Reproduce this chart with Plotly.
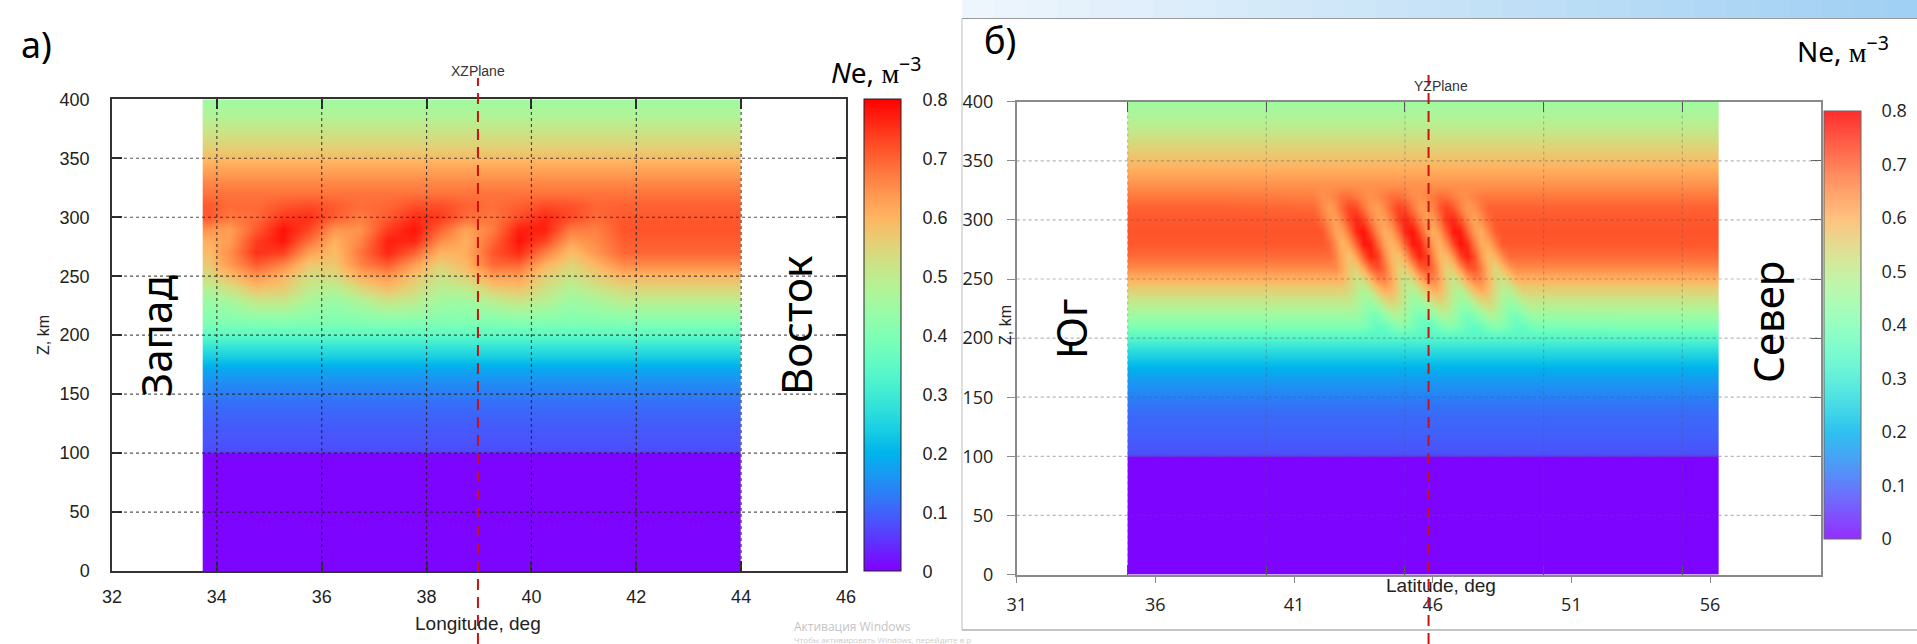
import plotly.graph_objects as go

W, H = 1917, 644

# ------------------------------------------------------------------ data
# colour range of Ne
Z_MIN, Z_MAX = 0.0, 0.8
cb_ticks = [0, 0.1, 0.2, 0.3, 0.4, 0.5, 0.6, 0.7, 0.8]
cb_labels = ["0", "0.1", "0.2", "0.3", "0.4", "0.5", "0.6", "0.7", "0.8"]

alt_ticks = [0, 50, 100, 150, 200, 250, 300, 350, 400]

# altitude cell edges (km) shared by both panels
alt_edges = [0, 99.5, 100, 105] + list(range(115, 396, 10)) + [400]

# ---- panel a : XZ plane (longitude)
lon_ticks_a = [32, 34, 36, 38, 40, 42, 44, 46]
lon_edges_a = [33.73, 34.0, 34.5, 35.0, 35.5, 36.0, 36.5, 37.0, 37.5, 38.0, 38.5,
               39.0, 39.5, 40.0, 40.5, 41.0, 41.5, 42.0, 42.5, 43.0, 43.5, 44.0]
plane_lon_a = 38.98

profile_a = [0.004, 0.004, 0.075, 0.085, 0.09, 0.10, 0.11, 0.13, 0.15, 0.18, 0.23,
             0.28, 0.345, 0.40, 0.45, 0.50, 0.545, 0.595, 0.655, 0.695, 0.705,
             0.715, 0.71, 0.70, 0.68, 0.655, 0.625, 0.59, 0.555, 0.525, 0.495,
             0.47, 0.455]

band_alt_a = [220, 230, 240, 250, 260, 270, 280, 290, 300, 310]
band_a = [
    [0.42, 0.431, 0.458, 0.461, 0.436, 0.42, 0.439, 0.463, 0.456, 0.429, 0.424, 0.447, 0.465, 0.447, 0.424, 0.435, 0.45, 0.45, 0.45, 0.45, 0.45],
    [0.445, 0.469, 0.517, 0.517, 0.469, 0.445, 0.483, 0.523, 0.503, 0.457, 0.454, 0.498, 0.524, 0.488, 0.449, 0.47, 0.5, 0.5, 0.5, 0.5, 0.5],
    [0.486, 0.524, 0.58, 0.563, 0.501, 0.488, 0.543, 0.585, 0.543, 0.488, 0.501, 0.563, 0.58, 0.524, 0.48, 0.515, 0.545, 0.545, 0.545, 0.545, 0.545],
    [0.534, 0.585, 0.639, 0.599, 0.533, 0.538, 0.606, 0.636, 0.578, 0.522, 0.556, 0.628, 0.628, 0.556, 0.52, 0.56, 0.595, 0.595, 0.595, 0.595, 0.595],
    [0.568, 0.633, 0.707, 0.659, 0.571, 0.572, 0.662, 0.707, 0.63, 0.555, 0.595, 0.691, 0.696, 0.603, 0.55, 0.6, 0.655, 0.655, 0.655, 0.655, 0.655],
    [0.586, 0.647, 0.75, 0.737, 0.626, 0.589, 0.68, 0.763, 0.702, 0.6, 0.608, 0.713, 0.759, 0.669, 0.584, 0.64, 0.695, 0.695, 0.695, 0.695, 0.695],
    [0.606, 0.631, 0.739, 0.778, 0.685, 0.602, 0.661, 0.768, 0.763, 0.652, 0.606, 0.693, 0.781, 0.73, 0.626, 0.655, 0.705, 0.705, 0.705, 0.705, 0.705],
    [0.643, 0.628, 0.709, 0.783, 0.729, 0.638, 0.645, 0.739, 0.78, 0.699, 0.623, 0.67, 0.769, 0.769, 0.67, 0.667, 0.715, 0.715, 0.715, 0.715, 0.715],
    [0.709, 0.675, 0.69, 0.744, 0.754, 0.704, 0.67, 0.706, 0.755, 0.743, 0.69, 0.676, 0.722, 0.76, 0.726, 0.69, 0.71, 0.71, 0.71, 0.71, 0.71],
    [0.708, 0.691, 0.69, 0.711, 0.724, 0.706, 0.686, 0.695, 0.719, 0.722, 0.699, 0.685, 0.702, 0.723, 0.717, 0.695, 0.70, 0.70, 0.70, 0.70, 0.70],
]

# ---- panel b : YZ plane (latitude)
lat_ticks_b = [31, 36, 41, 46, 51, 56]
lat_minor_b = [35, 40, 45, 50, 55]
lat_edges_b = [35.0] + [41.625 + 0.25 * i for i in range(33)] + [56.3]
plane_lat_b = 45.85

profile_b = [0.004, 0.004, 0.08, 0.09, 0.10, 0.105, 0.115, 0.135, 0.155, 0.18, 0.22,
             0.27, 0.335, 0.40, 0.45, 0.50, 0.55, 0.605, 0.655, 0.69, 0.71, 0.715,
             0.71, 0.70, 0.675, 0.645, 0.615, 0.585, 0.555, 0.525, 0.495, 0.47,
             0.455]

band_alt_b = [210, 220, 230, 240, 250, 260, 270, 280, 290, 300, 310, 320]
band_b = [
    [0.40, 0.40, 0.40, 0.40, 0.40, 0.40, 0.40, 0.395, 0.376, 0.357, 0.366, 0.389, 0.411, 0.412, 0.389, 0.367, 0.355, 0.367, 0.389, 0.412, 0.411, 0.389, 0.366, 0.357, 0.372, 0.397, 0.414, 0.407, 0.381, 0.362, 0.363, 0.381],
    [0.45, 0.45, 0.45, 0.45, 0.45, 0.45, 0.45, 0.423, 0.396, 0.395, 0.427, 0.467, 0.479, 0.452, 0.413, 0.388, 0.396, 0.429, 0.468, 0.478, 0.45, 0.412, 0.387, 0.404, 0.439, 0.475, 0.474, 0.438, 0.402, 0.388, 0.416, 0.442],
    [0.50, 0.50, 0.50, 0.50, 0.50, 0.50, 0.479, 0.45, 0.437, 0.473, 0.52, 0.545, 0.525, 0.481, 0.44, 0.438, 0.476, 0.52, 0.545, 0.525, 0.479, 0.44, 0.446, 0.489, 0.53, 0.545, 0.512, 0.466, 0.433, 0.455, 0.484, 0.50],
    [0.55, 0.55, 0.55, 0.55, 0.55, 0.536, 0.502, 0.47, 0.507, 0.565, 0.605, 0.598, 0.55, 0.494, 0.472, 0.51, 0.565, 0.605, 0.596, 0.548, 0.492, 0.48, 0.526, 0.583, 0.61, 0.585, 0.531, 0.483, 0.488, 0.522, 0.55, 0.55],
    [0.605, 0.605, 0.605, 0.605, 0.598, 0.559, 0.52, 0.539, 0.6, 0.66, 0.668, 0.622, 0.554, 0.51, 0.54, 0.605, 0.66, 0.666, 0.62, 0.552, 0.512, 0.558, 0.625, 0.668, 0.657, 0.6, 0.537, 0.521, 0.56, 0.60, 0.605, 0.605],
    [0.655, 0.655, 0.655, 0.655, 0.614, 0.569, 0.561, 0.623, 0.695, 0.725, 0.685, 0.611, 0.555, 0.563, 0.627, 0.70, 0.725, 0.683, 0.609, 0.553, 0.577, 0.649, 0.712, 0.718, 0.664, 0.589, 0.545, 0.591, 0.636, 0.655, 0.655, 0.655],
    [0.69, 0.69, 0.69, 0.66, 0.61, 0.576, 0.628, 0.71, 0.768, 0.742, 0.658, 0.592, 0.578, 0.63, 0.714, 0.768, 0.738, 0.654, 0.59, 0.588, 0.648, 0.736, 0.77, 0.716, 0.634, 0.58, 0.606, 0.656, 0.69, 0.69, 0.69, 0.69],
    [0.71, 0.71, 0.694, 0.644, 0.594, 0.629, 0.701, 0.775, 0.773, 0.699, 0.625, 0.59, 0.631, 0.705, 0.775, 0.771, 0.695, 0.623, 0.598, 0.649, 0.73, 0.783, 0.754, 0.672, 0.61, 0.612, 0.662, 0.71, 0.71, 0.71, 0.71, 0.71],
    [0.715, 0.713, 0.666, 0.617, 0.622, 0.685, 0.761, 0.781, 0.726, 0.652, 0.604, 0.624, 0.687, 0.763, 0.781, 0.724, 0.648, 0.604, 0.639, 0.709, 0.776, 0.772, 0.70, 0.631, 0.608, 0.655, 0.704, 0.715, 0.715, 0.715, 0.715, 0.715],
    [0.71, 0.68, 0.641, 0.624, 0.668, 0.729, 0.765, 0.735, 0.672, 0.627, 0.626, 0.669, 0.732, 0.765, 0.732, 0.669, 0.626, 0.635, 0.686, 0.747, 0.762, 0.716, 0.654, 0.617, 0.65, 0.689, 0.71, 0.71, 0.71, 0.71, 0.71, 0.71],
    [0.685, 0.654, 0.626, 0.653, 0.697, 0.732, 0.724, 0.679, 0.64, 0.627, 0.654, 0.699, 0.733, 0.722, 0.677, 0.639, 0.633, 0.665, 0.711, 0.735, 0.711, 0.665, 0.633, 0.644, 0.675, 0.70, 0.70, 0.70, 0.70, 0.70, 0.70, 0.70],
    [0.66, 0.647, 0.652, 0.668, 0.686, 0.688, 0.672, 0.655, 0.645, 0.653, 0.669, 0.687, 0.688, 0.672, 0.654, 0.646, 0.657, 0.675, 0.689, 0.685, 0.666, 0.651, 0.649, 0.662, 0.674, 0.675, 0.675, 0.675, 0.675, 0.675, 0.675, 0.675],
]


# ------------------------------------------------------------------ helpers
def build_grid(edges_y, profile, ncol, band_alt, band, col0):
    centers = [(edges_y[i] + edges_y[i + 1]) / 2 for i in range(len(edges_y) - 1)]
    z = [[p] * ncol for p in profile]
    for alt, row in zip(band_alt, band):
        i = centers.index(alt)
        z[i][col0:col0 + len(row)] = row
    return z


rainbow_rgb = [
    (0.00, (128, 0, 255)), (0.05, (102, 40, 254)), (0.10, (77, 79, 252)),
    (0.15, (51, 116, 248)), (0.20, (26, 150, 243)), (0.25, (0, 180, 236)),
    (0.30, (26, 206, 227)), (0.35, (51, 227, 217)), (0.40, (77, 243, 206)),
    (0.45, (102, 252, 194)), (0.50, (128, 255, 180)), (0.55, (153, 252, 166)),
    (0.60, (179, 243, 150)), (0.65, (204, 227, 133)), (0.70, (230, 206, 116)),
    (0.75, (255, 180, 98)), (0.80, (255, 150, 79)), (0.85, (255, 116, 60)),
    (0.90, (255, 79, 40)), (0.95, (255, 40, 20)), (1.00, (255, 0, 0)),
]
rainbow = [[s, "rgb(%d,%d,%d)" % c] for s, c in rainbow_rgb]
rainbow_light = [[s, "rgb(%d,%d,%d)" % tuple(int(0.82 * v + 0.18 * 255) for v in c)]
                 for s, c in rainbow_rgb]

z_a = build_grid(alt_edges, profile_a, len(lon_edges_a) - 1, band_alt_a, band_a, 0)
z_b = build_grid(alt_edges, profile_b, len(lat_edges_b) - 1, band_alt_b, band_b, 1)


def px(x):
    return x / W


def py(y):
    return 1 - y / H


# ------------------------------------------------------------------ geometry (px)
A_L, A_R, A_T, A_B = 112, 846, 99.3, 571
B_L, B_R, B_T, B_B = 1016.7, 1821, 101.7, 574.5
CBA = dict(l=864, t=99.3, b=571, th=37)
CBB = dict(l=1824, t=111, b=539, th=37)

fig = go.Figure()

fig.add_trace(go.Heatmap(
    x=lon_edges_a, y=alt_edges, z=z_a, zsmooth="best",
    colorscale=rainbow, zmin=Z_MIN, zmax=Z_MAX, xaxis="x", yaxis="y",
    hoverinfo="skip",
    colorbar=dict(
        x=px(CBA["l"]), xanchor="left", xref="paper", xpad=0,
        y=py(CBA["t"]), yanchor="top", yref="paper", ypad=0,
        len=CBA["b"] - CBA["t"], lenmode="pixels",
        thickness=CBA["th"], thicknessmode="pixels",
        outlinewidth=1, outlinecolor="#222",
        tickvals=cb_ticks, ticktext=cb_labels,
        ticks="outside", ticklen=18, tickcolor="rgba(0,0,0,0)",
        tickfont=dict(size=18, family="Liberation Sans", color="#222"),
    ),
))

fig.add_trace(go.Heatmap(
    x=lat_edges_b, y=alt_edges, z=z_b, zsmooth="best",
    colorscale=rainbow, zmin=Z_MIN, zmax=Z_MAX, xaxis="x2", yaxis="y2",
    hoverinfo="skip", showscale=False,
))

# colour bar of panel b (slightly paler, as in the screenshot)
fig.add_trace(go.Scatter(
    x=[None], y=[None], mode="markers", xaxis="x2", yaxis="y2",
    hoverinfo="skip", showlegend=False,
    marker=dict(color=[0.4], colorscale=rainbow_light, cmin=Z_MIN, cmax=Z_MAX,
                showscale=True,
                colorbar=dict(
                    x=px(CBB["l"]), xanchor="left", xref="paper", xpad=0,
                    y=py(CBB["t"]), yanchor="top", yref="paper", ypad=0,
                    len=CBB["b"] - CBB["t"], lenmode="pixels",
                    thickness=CBB["th"], thicknessmode="pixels",
                    outlinewidth=1, outlinecolor="#666",
                    tickvals=cb_ticks, ticktext=cb_labels,
                    ticks="outside", ticklen=17, tickcolor="rgba(0,0,0,0)",
                    tickfont=dict(size=18, family="Open Sans", color="#222"),
                )),
))

# dummy trace so the overlay axes of panel b are drawn
fig.add_trace(go.Scatter(x=[None], y=[None], xaxis="x3", yaxis="y3",
                         showlegend=False, hoverinfo="skip"))

axis_a_common = dict(showline=True, linecolor="#333", linewidth=1.5, ticks="inside",
                     ticklen=10, tickwidth=1.5, tickcolor="#333", mirror="ticks",
                     showgrid=False, zeroline=False, layer="above traces",
                     automargin=False,
                     tickfont=dict(size=18, family="Liberation Sans", color="#222"))

fig.update_layout(
    template="none",
    width=W, height=H, autosize=False,
    margin=dict(l=0, r=0, t=0, b=0, pad=0, autoexpand=False),
    paper_bgcolor="white", plot_bgcolor="white",
    showlegend=False,
    xaxis=dict(domain=[px(A_L), px(A_R)], range=[32, 46], tickvals=lon_ticks_a,
               anchor="y", ticklabelstandoff=9, **axis_a_common),
    yaxis=dict(domain=[py(A_B), py(A_T)], range=[0, 400], tickvals=alt_ticks,
               anchor="x", ticklabelstandoff=17, **axis_a_common),
    xaxis2=dict(domain=[px(B_L), px(B_R)], range=[31, 60], tickvals=lat_ticks_b,
                anchor="y2", showline=True, linecolor="#8a8a8a", linewidth=1.5,
                mirror=True, ticks="outside", ticklen=7, tickcolor="#8a8a8a",
                tickwidth=1.2, showgrid=False, zeroline=False, layer="above traces",
                ticklabelstandoff=6, automargin=False,
                tickfont=dict(size=18, family="Open Sans", color="#222")),
    yaxis2=dict(domain=[py(B_B), py(B_T)], range=[0, 400], tickvals=alt_ticks,
                anchor="x2", showline=True, linecolor="#8a8a8a", linewidth=1.5,
                mirror=True, ticks="outside", ticklen=8, tickcolor="#8a8a8a",
                tickwidth=1.2, showgrid=False, zeroline=False, layer="above traces",
                ticklabelstandoff=10, automargin=False,
                tickfont=dict(size=18, family="Open Sans", color="#222")),
    xaxis3=dict(overlaying="x2", anchor="y2", range=[31, 60], tickvals=lat_minor_b,
                ticks="inside", ticklen=10, tickcolor="#555", tickwidth=1.3,
                mirror="ticks", showline=False, showticklabels=False,
                showgrid=False, zeroline=False, layer="above traces",
                automargin=False),
    yaxis3=dict(overlaying="y2", anchor="x2", side="right", range=[0, 400],
                tickvals=alt_ticks, ticks="inside", ticklen=10, tickcolor="#666",
                tickwidth=1.2, showline=False, showticklabels=False,
                showgrid=False, zeroline=False, layer="above traces",
                automargin=False),
)

shapes = []
# dotted grid lines drawn over the heat maps
for v in lon_ticks_a[1:-1]:
    shapes.append(dict(type="line", xref="x", yref="y domain", x0=v, x1=v, y0=0, y1=1,
                       line=dict(color="rgba(30,30,30,0.75)", width=1.2, dash="dot"),
                       layer="above"))
for v in alt_ticks[1:-1]:
    shapes.append(dict(type="line", xref="x domain", yref="y", x0=0, x1=1, y0=v, y1=v,
                       line=dict(color="rgba(30,30,30,0.75)", width=1.2, dash="dot"),
                       layer="above"))
for v in lat_minor_b:
    shapes.append(dict(type="line", xref="x2", yref="y2 domain", x0=v, x1=v, y0=0, y1=1,
                       line=dict(color="rgba(90,90,90,0.35)", width=1.2, dash="dot"),
                       layer="above"))
for v in alt_ticks[1:-1]:
    shapes.append(dict(type="line", xref="x2 domain", yref="y2", x0=0, x1=1, y0=v, y1=v,
                       line=dict(color="rgba(90,90,90,0.45)", width=1.2, dash="dot"),
                       layer="above"))

# inside tick marks on both sides of the colour bars
for cb, col in ((CBA, "#333"), (CBB, "#555")):
    for v in cb_ticks[1:-1]:
        yy = cb["b"] - (v - Z_MIN) / (Z_MAX - Z_MIN) * (cb["b"] - cb["t"])
        for x0, x1 in ((cb["l"], cb["l"] + 8), (cb["l"] + cb["th"] - 8, cb["l"] + cb["th"])):
            shapes.append(dict(type="line", xref="paper", yref="paper",
                               x0=px(x0), x1=px(x1), y0=py(yy), y1=py(yy),
                               line=dict(color=col, width=1.5), layer="above"))

# cutting-plane markers (red dashed)
shapes.append(dict(type="line", xref="x", yref="paper", x0=plane_lon_a, x1=plane_lon_a,
                   y0=0, y1=py(78), line=dict(color="#cc1111", width=2, dash="11px,7px"),
                   layer="above"))
shapes.append(dict(type="line", xref="x2", yref="paper", x0=plane_lat_b, x1=plane_lat_b,
                   y0=0, y1=py(70), line=dict(color="#cc1111", width=2, dash="11px,7px"),
                   layer="above"))

# window chrome of the right-hand screenshot
n_band = 30
c0, c1 = (238, 246, 253), (160, 208, 243)
for i in range(n_band):
    f = i / (n_band - 1)
    col = tuple(int(c0[k] + (c1[k] - c0[k]) * f) for k in range(3))
    xa = 962 + (W - 962) * i / n_band
    xb = 962 + (W - 962) * (i + 1) / n_band + 1
    shapes.append(dict(type="rect", xref="paper", yref="paper", x0=px(xa), x1=px(xb),
                       y0=py(18), y1=1, line=dict(width=0),
                       fillcolor="rgb(%d,%d,%d)" % col, layer="below"))
shapes.append(dict(type="line", xref="paper", yref="paper", x0=px(962), x1=1,
                   y0=py(18.5), y1=py(18.5), line=dict(color="#9a9a9a", width=1.2)))
shapes.append(dict(type="line", xref="paper", yref="paper", x0=px(962), x1=px(962),
                   y0=py(18.5), y1=py(630), line=dict(color="#c8c8c8", width=1.2)))
shapes.append(dict(type="line", xref="paper", yref="paper", x0=px(962), x1=1,
                   y0=py(630), y1=py(630), line=dict(color="#8a8a8a", width=1.2)))

fig.update_layout(shapes=shapes)


def ann(text, x, y, size, family, color="#000", angle=0, xanchor="center",
        yanchor="middle"):
    return dict(text=text, x=px(x), y=py(y), xref="paper", yref="paper",
                showarrow=False, textangle=angle, xanchor=xanchor, yanchor=yanchor,
                font=dict(size=size, family=family, color=color))


BIG = "Noto Sans"
annotations = [
    ann("а)", 36, 45, 36, BIG),
    ann("б)", 1000, 41, 36, BIG),
    ann("XZPlane", 478, 71, 14, "Liberation Sans", "#333"),
    ann("YZPlane", 1441, 86, 14, "Liberation Sans", "#333"),
    ann("Z, km", 43, 335, 16, "Liberation Sans", "#222", angle=-90),
    ann("Z, km", 1005, 325, 16, "Liberation Sans", "#222", angle=-90),
    ann("Longitude, deg", 478, 623, 19, "Liberation Sans", "#222"),
    ann("Latitude, deg", 1441, 585, 19, "Liberation Sans", "#222"),
    ann("Запад", 155, 336, 42, BIG, angle=-90),
    ann("Восток", 795, 326, 42, BIG, angle=-90),
    ann("Юг", 1070, 329, 42, BIG, angle=-90),
    ann("Север", 1767, 322, 42, BIG, angle=-90),
    ann("<i>N</i>e, <span style='font-family:Liberation Serif'>м</span><sup>−3</sup>",
        876, 70, 28, BIG),
    ann("Ne, <span style='font-family:Liberation Serif'>м</span><sup>−3</sup>",
        1843, 50, 28, BIG),
    ann("Активация Windows", 792, 626, 12, "Open Sans", "#c4c4c4", xanchor="left"),
    ann("Чтобы активировать Windows, перейдите в р", 792, 639, 8, "Open Sans",
        "#cccccc", xanchor="left"),
]
fig.update_layout(annotations=annotations)

fig.write_html("out.html")
